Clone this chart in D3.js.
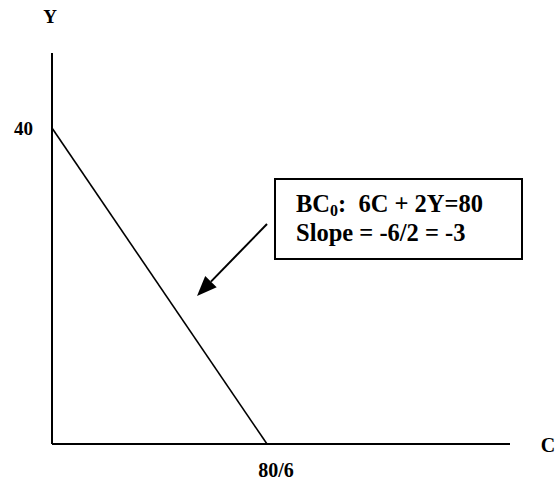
<!DOCTYPE html>
<html><head><meta charset="utf-8">
<script src="https://cdn.jsdelivr.net/npm/d3@7"></script>
<style>body{margin:0;background:#fff}svg{display:block}text{font-family:"Liberation Serif","Times New Roman",serif;font-weight:bold;fill:#000}</style>
</head><body>
<script>
const income = 80, priceC = 6, priceY = 2;
const budgetLine = [{c: 0, y: income / priceY}, {c: income / priceC, y: 0}];
const tickLabels = {y: "40", c: "80/6"};
const axisTitles = {x: "C", y: "Y"};
const boxLines = ["BC", "Slope = -6/2 = -3"];
const xMax = 28.4, yMax = 49.5;

const W = 560, H = 487;
const svg = d3.select("body").append("svg").attr("width", W).attr("height", H);
const x = d3.scaleLinear().domain([0, xMax]).range([52, 510]);
const y = d3.scaleLinear().domain([0, yMax]).range([444, 53]);

// axes
svg.append("line").attr("x1", x(0)).attr("x2", x(0)).attr("y1", y(0)).attr("y2", y(yMax)).attr("stroke", "#000").attr("stroke-width", 2);
svg.append("line").attr("x1", x(0)).attr("x2", x(xMax)).attr("y1", y(0)).attr("y2", y(0)).attr("stroke", "#000").attr("stroke-width", 2);

// budget line
svg.append("path").datum(budgetLine)
  .attr("d", d3.line().x(d => x(d.c)).y(d => y(d.y)))
  .attr("fill", "none").attr("stroke", "#000").attr("stroke-width", 1.6);

// labels
svg.append("text").attr("x", 50).attr("y", 23).attr("text-anchor", "middle").style("font-size", "19px").text(axisTitles.y);
svg.append("text").attr("x", 548).attr("y", 452).attr("text-anchor", "middle").style("font-size", "20px").text(axisTitles.x);
svg.append("text").attr("x", 33).attr("y", y(budgetLine[0].y) + 7).attr("text-anchor", "end").style("font-size", "19px").text(tickLabels.y);
svg.append("text").attr("x", x(budgetLine[1].c) + 9).attr("y", 477).attr("text-anchor", "middle").style("font-size", "20px").text(tickLabels.c);

// box
svg.append("rect").attr("x", 275).attr("y", 179).attr("width", 247).attr("height", 80)
  .attr("fill", "#fff").attr("stroke", "#000").attr("stroke-width", 2);
const t1 = svg.append("text").attr("x", 296).attr("y", 212).style("font-size", "24.5px");
t1.append("tspan").text(boxLines[0]);
t1.append("tspan").attr("dy", 4).style("font-size", "16px").text("0");
t1.append("tspan").attr("dy", -4).attr("xml:space", "preserve").text(":\u00a0\u00a06C + 2Y=80");
svg.append("text").attr("x", 296).attr("y", 241).style("font-size", "24.5px").text(boxLines[1]);

// arrow
const ax1 = 267, ay1 = 224, ax2 = 197, ay2 = 296;
const ang = Math.atan2(ay2 - ay1, ax2 - ax1);
const hl = 20, hw = 8;
const bx = ax2 - hl * Math.cos(ang), by = ay2 - hl * Math.sin(ang);
svg.append("line").attr("x1", ax1).attr("y1", ay1).attr("x2", bx).attr("y2", by).attr("stroke", "#000").attr("stroke-width", 2);
svg.append("path").attr("d", `M${ax2},${ay2}L${bx + hw * Math.sin(ang)},${by - hw * Math.cos(ang)}L${bx - hw * Math.sin(ang)},${by + hw * Math.cos(ang)}Z`).attr("fill", "#000");
</script>
</body></html>
